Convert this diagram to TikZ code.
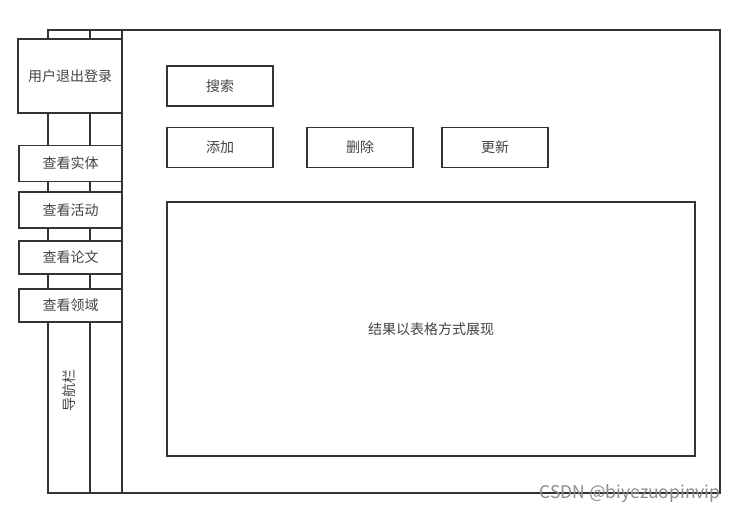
\documentclass[tikz,border=0pt]{standalone}
\usepackage{fontspec}
\newfontfamily\cjk{Noto Sans CJK SC}
\usetikzlibrary{positioning}
\definecolor{edge}{HTML}{333333}
\definecolor{words}{HTML}{444444}
\definecolor{mark}{HTML}{8C8C8C}
\tikzset{
  box/.style={draw=edge, line width=1.5pt, fill=white, inner sep=0pt,
    font=\cjk\fontsize{14}{16}\selectfont, text=words},
  navbtn/.style={box, minimum width=103pt, minimum height=36pt},
  btn/.style={box, minimum width=106pt, minimum height=40pt},
}

\begin{document}
\begin{tikzpicture}[x=1pt, y=-1pt]
  \useasboundingbox (0,0) rectangle (734,513);
  % page frame and navigation strip
  \draw[edge, line width=1.5pt] (48,30) rectangle (720,493);
  \draw[edge, line width=1.5pt] (90,30) -- (90,493);
  \draw[edge, line width=1.5pt] (122,30) -- (122,493);

  \node[box, minimum width=104pt, minimum height=74pt] (logout) at (70,76) {用户退出登录};
  \node[navbtn] (entity) at (70.5,163.5) {查看实体};
  \node[navbtn] (activity) at (70.5,210) {查看活动};
  \node[navbtn, minimum height=33pt] (paper) at (70.5,257.5) {查看论文};
  \node[navbtn, minimum height=33pt] (field) at (70.5,305.5) {查看领域};
  \node[font=\cjk\fontsize{14}{16}\selectfont, text=words, rotate=90] (navbar) at (69,390) {导航栏};

  % main area
  \node[btn] (search) at (220,86) {搜索};
  \node[btn] (add) at (220,147.5) {添加};
  \node[btn] (delete) at (360,147.5) {删除};
  \node[btn] (update) at (495,147.5) {更新};
  \node[box, minimum width=528pt, minimum height=254pt] (result) at (431,329) {结果以表格方式展现};

  \node[font=\cjk\fontsize{17.5}{19}\selectfont, text=mark, inner sep=0pt] (credit) at (630,494) {CSDN @biyezuopinvip};
\end{tikzpicture}
\end{document}
